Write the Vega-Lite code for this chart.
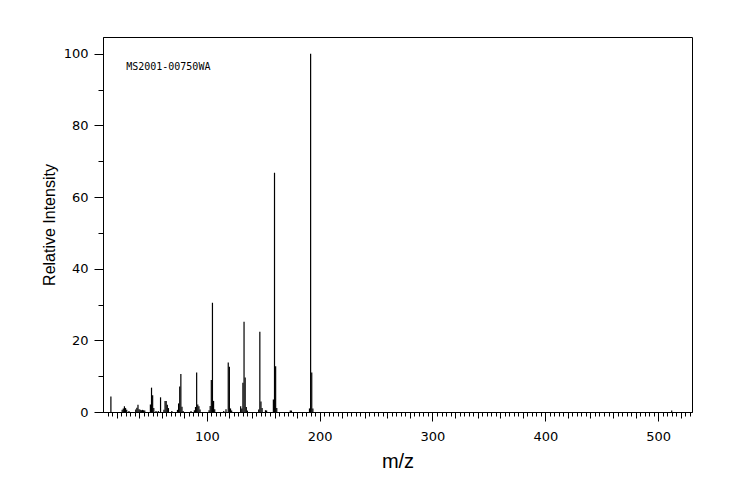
{
  "$schema": "https://vega.github.io/schema/vega-lite/v6.json",
  "width": 589,
  "height": 375,
  "autosize": {"type": "none"},
  "padding": {"left": 103, "top": 37, "right": 52, "bottom": 88},
  "background": "white",
  "config": {
    "view": {"stroke": "black", "strokeWidth": 1},
    "axis": {"grid": false, "domainColor": "black", "tickColor": "black", "labelColor": "black", "titleColor": "black", "domainWidth": 1, "tickWidth": 1, "labelFont": "DejaVu Sans", "labelFontSize": 13, "titleFontWeight": "normal"}
  },
  "data": {"values": [
    {"mz": 15, "intensity": 4.3}, {"mz": 25, "intensity": 0.6}, {"mz": 26, "intensity": 1.0}, {"mz": 27, "intensity": 1.6}, {"mz": 28, "intensity": 1.1}, {"mz": 29, "intensity": 0.6}, {"mz": 31, "intensity": 0.3},
    {"mz": 37, "intensity": 0.7}, {"mz": 38, "intensity": 1.2}, {"mz": 39, "intensity": 2.0}, {"mz": 40, "intensity": 0.8}, {"mz": 41, "intensity": 0.6}, {"mz": 42, "intensity": 0.5}, {"mz": 43, "intensity": 0.6}, {"mz": 44, "intensity": 0.5}, {"mz": 45, "intensity": 0.4},
    {"mz": 50, "intensity": 2.1}, {"mz": 51, "intensity": 6.8}, {"mz": 52, "intensity": 4.7}, {"mz": 53, "intensity": 1.1}, {"mz": 55, "intensity": 0.3}, {"mz": 57, "intensity": 0.3}, {"mz": 59, "intensity": 4.1},
    {"mz": 62, "intensity": 0.6}, {"mz": 63, "intensity": 3.1}, {"mz": 64, "intensity": 3.1}, {"mz": 65, "intensity": 2.0}, {"mz": 66, "intensity": 1.1}, {"mz": 69, "intensity": 0.3},
    {"mz": 74, "intensity": 0.6}, {"mz": 75, "intensity": 2.4}, {"mz": 76, "intensity": 7.1}, {"mz": 77, "intensity": 10.6}, {"mz": 78, "intensity": 1.5}, {"mz": 79, "intensity": 0.3},
    {"mz": 86, "intensity": 0.3}, {"mz": 89, "intensity": 0.5}, {"mz": 90, "intensity": 1.4}, {"mz": 91, "intensity": 11.0}, {"mz": 92, "intensity": 2.1}, {"mz": 93, "intensity": 1.6}, {"mz": 94, "intensity": 0.7},
    {"mz": 102, "intensity": 0.5}, {"mz": 103, "intensity": 1.7}, {"mz": 104, "intensity": 8.9}, {"mz": 105, "intensity": 30.5}, {"mz": 106, "intensity": 3.1}, {"mz": 107, "intensity": 0.8},
    {"mz": 115, "intensity": 0.3}, {"mz": 117, "intensity": 0.8}, {"mz": 119, "intensity": 13.8}, {"mz": 120, "intensity": 12.6}, {"mz": 121, "intensity": 1.0}, {"mz": 122, "intensity": 0.4},
    {"mz": 130, "intensity": 1.6}, {"mz": 131, "intensity": 1.0}, {"mz": 132, "intensity": 8.2}, {"mz": 133, "intensity": 25.2}, {"mz": 134, "intensity": 9.6}, {"mz": 135, "intensity": 1.4}, {"mz": 136, "intensity": 0.4},
    {"mz": 146, "intensity": 0.7}, {"mz": 147, "intensity": 22.4}, {"mz": 148, "intensity": 2.9}, {"mz": 149, "intensity": 1.1}, {"mz": 152, "intensity": 0.5}, {"mz": 153, "intensity": 0.4},
    {"mz": 159, "intensity": 3.5}, {"mz": 160, "intensity": 66.8}, {"mz": 161, "intensity": 12.8}, {"mz": 162, "intensity": 1.1}, {"mz": 174, "intensity": 0.4}, {"mz": 175, "intensity": 0.4},
    {"mz": 191, "intensity": 1.0}, {"mz": 192, "intensity": 100}, {"mz": 193, "intensity": 11.0}, {"mz": 194, "intensity": 1.0}, {"mz": 512, "intensity": 0.4}
  ]},
  "resolve": {"axis": {"x": "independent", "y": "independent"}},
  "layer": [
    {
      "mark": {"type": "rule", "color": "black", "strokeWidth": 1.2},
      "encoding": {
        "x": {"field": "mz", "type": "quantitative", "scale": {"domain": [8, 530], "nice": false, "zero": false},
              "axis": {"orient": "bottom", "values": [100, 200, 300, 400, 500], "tickSize": 9, "labelPadding": 9, "title": "m/z", "titleFont": "Liberation Sans", "titleFontSize": 20, "titlePadding": 8}},
        "y": {"field": "intensity", "type": "quantitative", "scale": {"domain": [0, 104.7], "nice": false},
              "axis": {"orient": "left", "values": [0, 20, 40, 60, 80, 100], "tickSize": 9, "labelPadding": 6, "title": "Relative Intensity", "titleFont": "Liberation Sans", "titleFontSize": 16, "titlePadding": 6}},
        "y2": {"datum": 0}
      }
    },
    {
      "mark": {"type": "point", "opacity": 0},
      "encoding": {
        "x": {"field": "mz", "type": "quantitative", "scale": {"domain": [8, 530], "nice": false, "zero": false},
              "axis": {"orient": "bottom", "values": [12,16,20,24,28,32,36,40,44,48,52,56,60,64,68,72,76,80,84,88,92,96,100,104,108,112,116,120,124,128,132,136,140,144,148,152,156,160,164,168,172,176,180,184,188,192,196,200,204,208,212,216,220,224,228,232,236,240,244,248,252,256,260,264,268,272,276,280,284,288,292,296,300,304,308,312,316,320,324,328,332,336,340,344,348,352,356,360,364,368,372,376,380,384,388,392,396,400,404,408,412,416,420,424,428,432,436,440,444,448,452,456,460,464,468,472,476,480,484,488,492,496,500,504,508,512,516,520,524,528], "tickSize": 4, "labels": false, "domain": false, "title": null}},
        "y": {"field": "intensity", "type": "quantitative", "scale": {"domain": [0, 104.7], "nice": false},
              "axis": {"orient": "left", "values": [10, 30, 50, 70, 90], "tickSize": 5, "labels": false, "domain": false, "title": null}}
      }
    },
    {
      "mark": {"type": "point", "opacity": 0},
      "encoding": {
        "x": {"field": "mz", "type": "quantitative", "scale": {"domain": [8, 530], "nice": false, "zero": false},
              "axis": {"orient": "bottom", "values": [20,40,60,80,120,140,160,180,220,240,260,280,320,340,360,380,420,440,460,480,520], "tickSize": 6, "labels": false, "domain": false, "title": null}}
      }
    },
    {
      "data": {"values": [{}]},
      "mark": {"type": "text", "font": "DejaVu Sans Mono", "fontSize": 10, "align": "left", "baseline": "middle", "color": "black"},
      "encoding": {
        "x": {"datum": 28.5, "type": "quantitative", "axis": null},
        "y": {"datum": 96.3, "type": "quantitative", "axis": null},
        "text": {"value": "MS2001-00750WA"}
      }
    }
  ]
}
